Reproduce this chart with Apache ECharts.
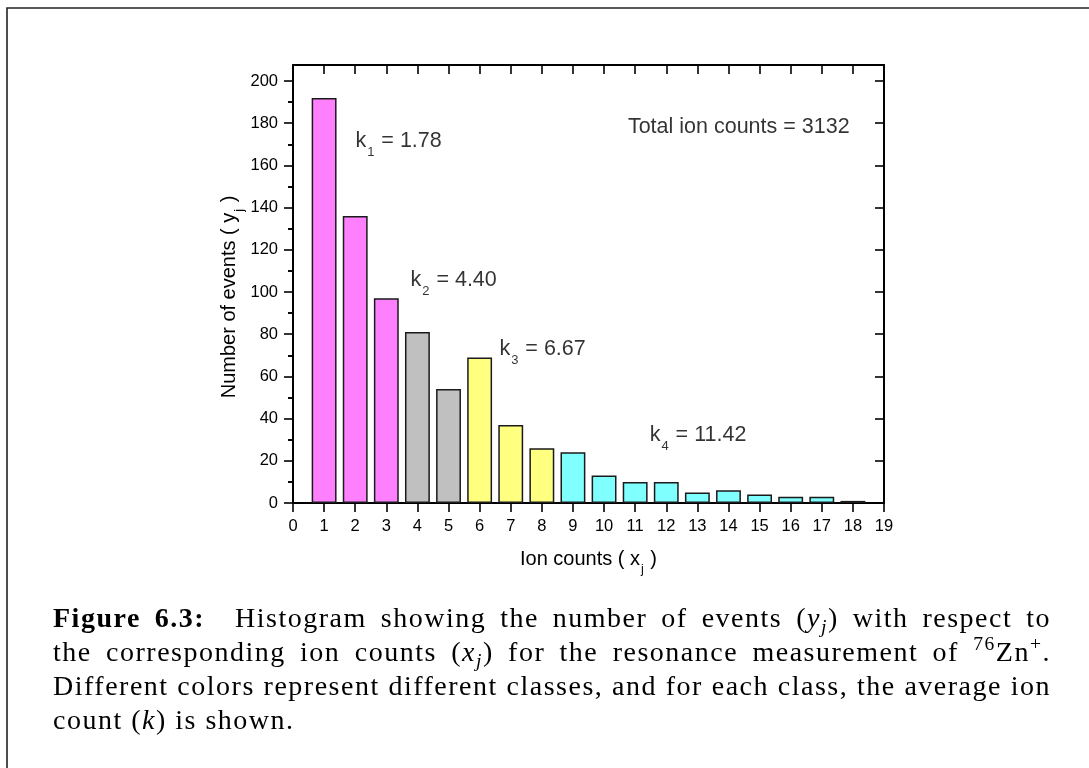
<!DOCTYPE html>
<html>
<head>
<meta charset="utf-8">
<script src="https://cdn.jsdelivr.net/npm/echarts@6/dist/echarts.min.js"></script>
<style>
  html, body { margin: 0; padding: 0; background: #fff; }
  #chart { position: absolute; left: 0; top: 0; width: 1089px; height: 768px; }
  #caption {
    position: absolute; left: 53px; top: 601px; width: 998px;
    font-family: "Liberation Serif", "Times New Roman", serif;
    font-size: 28px; line-height: 34px; color: #000; letter-spacing: 1.5px;
  }
  #caption .ln { text-align: justify; text-align-last: justify; }
  #caption .ln.last { text-align: left; text-align-last: left; }
  #caption sub { font-size: 0.7em; vertical-align: -0.3em; line-height: 0; }
  #caption sup { font-size: 0.7em; vertical-align: 0.55em; line-height: 0; }
  #caption b { font-weight: bold; margin-right: 16px; }
</style>
</head>
<body>
<div id="chart"></div>
<div id="caption">
  <div class="ln"><b>Figure 6.3:</b> Histogram showing the number of events (<i>y</i><sub><i>j</i></sub>) with respect to</div>
  <div class="ln">the corresponding ion counts (<i>x</i><sub><i>j</i></sub>) for the resonance measurement of <sup>76</sup>Zn<sup>+</sup>.</div>
  <div class="ln">Different colors represent different classes, and for each class, the average ion</div>
  <div class="ln last">count (<i>k</i>) is shown.</div>
</div>
<script>
// Ion counts per event (x_j) and number of events (y_j)
const ionCounts = [1, 2, 3, 4, 5, 6, 7, 8, 9, 10, 11, 12, 13, 14, 15, 16, 17, 18];
const events    = [192, 136, 97, 81, 54, 69, 37, 26, 24, 13, 10, 10, 5, 6, 4, 3, 3, 1];
// class index of every bar, class colours and class mean ion counts
const classOf     = [0, 0, 0, 1, 1, 2, 2, 2, 3, 3, 3, 3, 3, 3, 3, 3, 3, 3];
const classColors = ['#ff80ff', '#c0c0c0', '#ffff80', '#80ffff'];
const classMeans  = ['1.78', '4.40', '6.67', '11.42'];
const totalIonCounts = 3132;
// axis ticks
const yMajorTicks = [0, 20, 40, 60, 80, 100, 120, 140, 160, 180, 200];
const yMinorTicks = [10, 30, 50, 70, 90, 110, 130, 150, 170, 190];
const xMin = 0, xMax = 19, yMin = 0, yMax = 207.6;

const FONT = '"Liberation Sans", Arial, Helvetica, sans-serif';
const INK = '#000';
const axisLine = { show: true, onZero: false, lineStyle: { color: INK, width: 2 } };
const tickStyle = { color: INK, width: 1.6 };

// where each annotation starts (data coordinates)
const kLabelAt = [[1.99, 171.5], [3.76, 105.5], [6.62, 73], [11.45, 32]];
const totalLabelAt = [10.75, 178];

const noteRich = {
  m: { fontSize: 21.5, fontFamily: FONT, color: INK },
  s: { fontSize: 13, fontFamily: FONT, color: INK, padding: [22, 1, 0, 1] }
};
const titleRich = {
  m: { fontSize: 20, fontFamily: FONT, color: INK },
  s: { fontSize: 12.5, fontFamily: FONT, color: INK, padding: [20, 1, 0, 1] }
};

const barData = ionCounts.map((x, i) => ({
  value: [x, events[i]],
  itemStyle: { color: classColors[classOf[i]] }
}));

const noteData = kLabelAt.map((p, c) => ({
  value: p,
  label: { formatter: '{m|k}{s|' + (c + 1) + '}{m| = ' + classMeans[c] + '}' }
})).concat([{
  value: totalLabelAt,
  label: { formatter: '{m|Total ion counts = ' + totalIonCounts + '}' }
}]);

const chart = echarts.init(document.getElementById('chart'), null, { renderer: 'canvas' });

chart.setOption({
  animation: false,
  backgroundColor: '#fff',
  graphic: [{
    type: 'rect', silent: true,
    shape: { x: 7, y: 8, width: 1300, height: 1000 },
    style: { fill: 'none', stroke: '#222', lineWidth: 1.6 }
  }],
  grid: { left: 293, right: 205, top: 65, bottom: 265, containLabel: false },
  xAxis: [{
    type: 'value', min: xMin, max: xMax, interval: 1, position: 'bottom',
    axisLine: axisLine,
    axisTick: { show: true, inside: false, length: 9, lineStyle: tickStyle },
    axisLabel: { margin: 15, fontSize: 16.5, fontFamily: FONT, color: INK },
    splitLine: { show: false },
    name: '{m|Ion counts ( x}{s|j}{m| )}',
    nameLocation: 'middle', nameGap: 40,
    nameTextStyle: { rich: titleRich }
  }, {
    type: 'value', min: xMin, max: xMax, interval: 1, position: 'top',
    axisLine: axisLine,
    axisTick: { show: true, inside: true, length: 9, lineStyle: tickStyle },
    axisLabel: { show: false },
    splitLine: { show: false }
  }],
  yAxis: [{
    type: 'value', min: yMin, max: yMax, position: 'left', offset: 0,
    axisLine: axisLine,
    axisTick: { show: true, inside: false, length: 9, customValues: yMajorTicks, lineStyle: tickStyle },
    axisLabel: { customValues: yMajorTicks, margin: 15, fontSize: 16.5, fontFamily: FONT, color: INK },
    splitLine: { show: false },
    name: '{m|Number of events ( y}{s|j}{m| )}',
    nameLocation: 'middle', nameGap: 47, nameMoveOverlap: false,
    nameTextStyle: { rich: titleRich, padding: [0, 26, 0, 0] }
  }, {
    type: 'value', min: yMin, max: yMax, position: 'left', offset: 0,
    axisLine: { show: false },
    axisTick: { show: true, inside: false, length: 5, customValues: yMinorTicks, lineStyle: tickStyle },
    axisLabel: { show: false },
    splitLine: { show: false }
  }, {
    type: 'value', min: yMin, max: yMax, position: 'right', offset: 0,
    axisLine: axisLine,
    axisTick: { show: true, inside: true, length: 9, customValues: yMajorTicks, lineStyle: tickStyle },
    axisLabel: { show: false },
    splitLine: { show: false }
  }, {
    type: 'value', min: yMin, max: yMax, position: 'right', offset: 0,
    axisLine: { show: false },
    axisTick: { show: true, inside: true, length: 5, customValues: yMinorTicks, lineStyle: tickStyle },
    axisLabel: { show: false },
    splitLine: { show: false }
  }],
  series: [{
    type: 'bar',
    xAxisIndex: 0, yAxisIndex: 0,
    barWidth: '80%',
    data: barData,
    itemStyle: { borderColor: '#1a1a1a', borderWidth: 1.5 },
    silent: true
  }, {
    type: 'scatter',
    xAxisIndex: 0, yAxisIndex: 0,
    symbolSize: 1,
    itemStyle: { color: 'rgba(0,0,0,0)' },
    silent: true,
    label: { show: true, position: 'right', distance: 0, color: INK, rich: noteRich },
    data: noteData
  }]
});
</script>
</body>
</html>
